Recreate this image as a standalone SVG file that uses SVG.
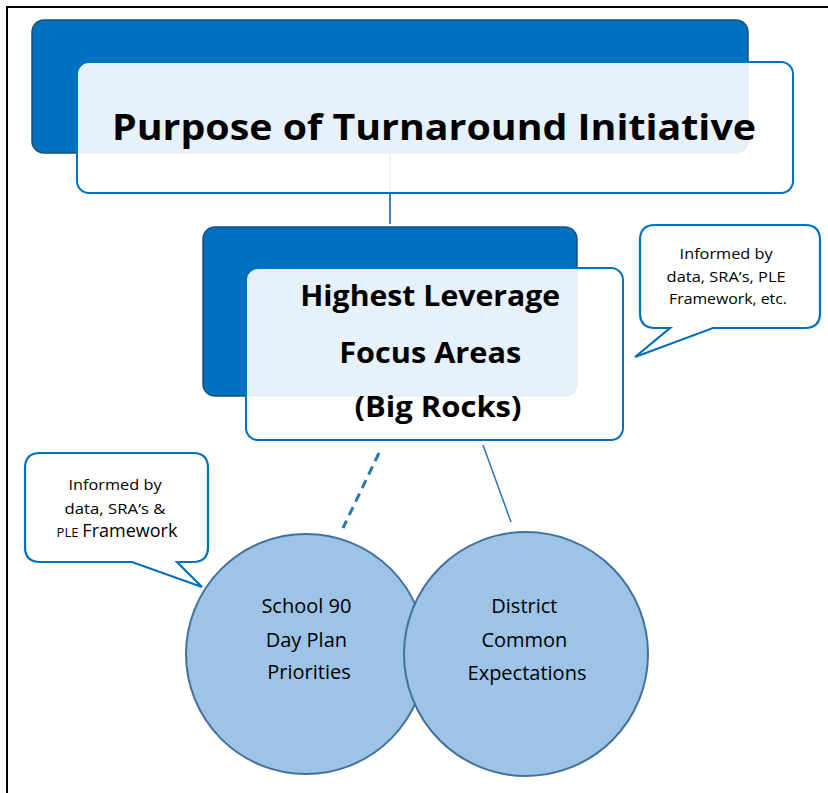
<svg xmlns="http://www.w3.org/2000/svg" width="828" height="793" viewBox="0 0 828 793">
<style>
.dark{fill:#0070c0;stroke:#1f4e79;stroke-width:1.5}
.light{fill:#ffffff;fill-opacity:0.9;stroke:#0070c0;stroke-width:2}
.title{font-family:"Open Sans","Liberation Sans",sans-serif;font-weight:bold;fill:#000}
.call{fill:#fff;stroke:#0070c0;stroke-width:2.2;stroke-linejoin:miter}
.ct{font-family:"Open Sans","Liberation Sans",sans-serif;fill:#000;text-anchor:middle}
.circ{fill:#9dc3e6;stroke:#41719c;stroke-width:2}
.cl{font-family:"Open Sans","Liberation Sans",sans-serif;font-size:20px;fill:#000;text-anchor:middle}
.conn{fill:none;stroke:#2e75b6}
</style>
<rect width="828" height="793" fill="#fff"/>
<path d="M7 793 V7 H828" fill="none" stroke="#000" stroke-width="2"/>
<g id="connectors">
<line x1="390" y1="150" x2="390" y2="224" stroke="#4a7eb0" stroke-width="2"/>
<line class="conn" x1="379" y1="453" x2="343" y2="528" stroke-width="3" stroke-dasharray="9,6"/>
<line class="conn" x1="483" y1="445" x2="511" y2="522" stroke-width="1.5"/>
</g>
<g id="purpose">
<rect class="dark" x="32" y="20" width="716" height="133" rx="12"/>
<rect class="light" x="77" y="62" width="716" height="131" rx="12"/>
<text class="title" x="434" y="140" font-size="36" text-anchor="middle" textLength="644" lengthAdjust="spacingAndGlyphs">Purpose of Turnaround Initiative</text>
</g>
<g id="focus">
<rect class="dark" x="203" y="227" width="374" height="169" rx="12"/>
<rect class="light" x="246" y="268" width="377" height="172" rx="12"/>
<text class="title" font-size="29" text-anchor="middle">
<tspan x="434" y="306" textLength="260" lengthAdjust="spacingAndGlyphs">Highest Leverage</tspan>
<tspan x="434" y="363" textLength="182" lengthAdjust="spacingAndGlyphs">Focus Areas</tspan>
<tspan x="438" y="417" textLength="167" lengthAdjust="spacingAndGlyphs">(Big Rocks)</tspan>
</text>
</g>
<g id="callout-right">
<path class="call" d="M655 225 H805 Q820 225 820 240 V313 Q820 328 805 328 H713 L635 357 L670 328 H655 Q640 328 640 313 V240 Q640 225 655 225 Z"/>
<text class="ct" font-size="14.5">
<tspan x="728" y="259" textLength="93" lengthAdjust="spacingAndGlyphs">Informed by</tspan>
<tspan x="728" y="282" textLength="119" lengthAdjust="spacingAndGlyphs">data, SRA’s, PLE</tspan>
<tspan x="728" y="304" textLength="118" lengthAdjust="spacingAndGlyphs">Framework, etc.</tspan>
</text>
</g>
<g id="callout-left">
<path class="call" d="M40 453 H193 Q208 453 208 468 V547 Q208 562 193 562 H177 L202 587 L132 562 H40 Q25 562 25 547 V468 Q25 453 40 453 Z"/>
<text class="ct" font-size="15">
<tspan x="117" y="490" textLength="93" lengthAdjust="spacingAndGlyphs">Informed by</tspan>
<tspan x="117" y="514" textLength="101" lengthAdjust="spacingAndGlyphs">data, SRA’s &amp;</tspan>
<tspan x="117" y="537"><tspan font-size="13">PLE</tspan> <tspan font-size="18">Framework</tspan></tspan>
</text>
</g>
<g id="school">
<circle class="circ" cx="306" cy="654" r="120"/>
<text class="cl">
<tspan x="309" y="613">School 90</tspan>
<tspan x="309" y="647">Day Plan</tspan>
<tspan x="309" y="679">Priorities</tspan>
</text>
</g>
<g id="district">
<circle class="circ" cx="526" cy="654" r="122"/>
<text class="cl">
<tspan x="527" y="613">District</tspan>
<tspan x="527" y="647">Common</tspan>
<tspan x="527" y="680">Expectations</tspan>
</text>
</g>
</svg>
